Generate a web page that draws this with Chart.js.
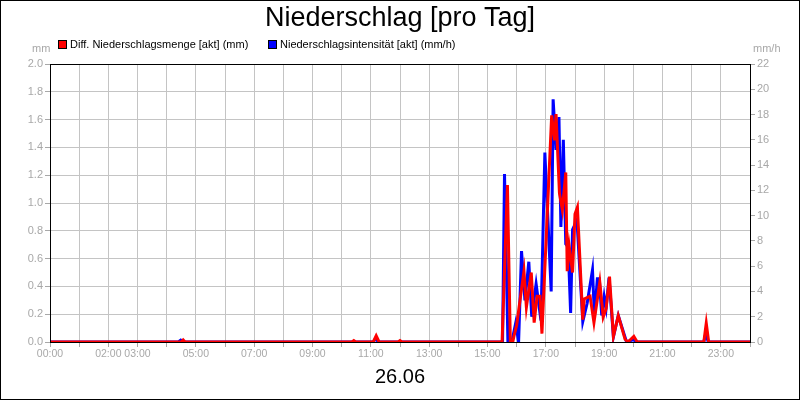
<!DOCTYPE html>
<html>
<head>
<meta charset="utf-8">
<script src="https://cdn.jsdelivr.net/npm/chart.js@4"></script>
<style>
  html, body { margin: 0; padding: 0; background: #fff; }
</style>
</head>
<body>
<canvas id="myChart" width="800" height="400"></canvas>
<script>
// Diff. Niederschlagsmenge (mm), linke Achse
const redTimes = ["00:00", "04:30", "04:34", "04:38", "10:21", "10:25", "10:29", "11:05", "11:11", "11:17",
  "11:56", "12:00", "12:04", "15:30", "15:41", "15:47", "15:52", "15:55", "16:00", "16:15", "16:20", "16:30",
  "16:36", "16:42", "16:48", "16:52", "17:12", "17:18", "17:21", "17:28", "17:34", "17:41", "17:44", "17:48",
  "17:55", "18:00", "18:05", "18:16", "18:19", "18:31", "18:39", "18:51", "18:58", "19:04", "19:11", "19:19",
  "19:29", "19:43", "19:49", "20:01", "20:08", "22:25", "22:30", "22:35", "24:00"];
const redValues = [0, 0, 0.015, 0, 0, 0.01, 0, 0, 0.045, 0,
  0, 0.01, 0, 0, 1.13, 0, 0, 0.05, 0.12, 0.51, 0.25, 0.5,
  0.14, 0.33, 0.33, 0.06, 1.63, 1.45, 1.64, 1.07, 0.95, 1.22, 0.51, 0.69,
  0.5, 0.92, 0.97, 0.16, 0.31, 0.33, 0.14, 0.43, 0.18, 0.24, 0.47, 0.04,
  0.19, 0.02, 0, 0.04, 0, 0, 0.135, 0, 0];

// Niederschlagsintensität (mm/h), rechte Achse
const blueTimes = ["00:00", "04:24", "04:29", "04:34", "11:05", "11:10", "11:15", "15:31", "15:35", "15:42",
  "15:50", "15:58", "16:04", "16:10", "16:17", "16:25", "16:31", "16:40", "16:50", "16:58", "17:11", "17:15",
  "17:21", "17:27", "17:31", "17:36", "17:41", "17:46", "17:51", "17:55", "18:04", "18:16", "18:25", "18:36",
  "18:40", "18:46", "18:50", "18:55", "19:00", "19:04", "19:10", "19:19", "19:29", "19:46", "20:01", "20:06",
  "22:25", "22:29", "22:34", "24:00"];
const blueValues = [0, 0, 0.15, 0, 0, 0.3, 0, 0, 13.3, 0,
  0, 1.5, 0, 7.2, 3.3, 6.35, 2.0, 4.6, 1.7, 15.0, 4.0, 19.2,
  15.2, 17.8, 9.1, 16.0, 7.76, 7.5, 2.3, 8.9, 9.65, 1.6, 3.06, 5.7,
  2.0, 5.0, 5.0, 2.1, 3.6, 2.7, 5.1, 0.4, 2.1, 0, 0.2, 0,
  0, 0.7, 0, 0];

const hourLabels = [0, 2, 3, 5, 7, 9, 11, 13, 15, 17, 19, 21, 23];

const FONT = "'Liberation Sans', Arial, sans-serif";
const GREY = "#a8a8a8";

function toHours(t) {
  const [h, m] = t.split(":").map(Number);
  return h + m / 60;
}

function toPoints(times, values) {
  return times.map((t, i) => ({ x: toHours(t), y: values[i] }));
}

const extras = {
  id: "extras",
  afterDraw(chart) {
    const ctx = chart.ctx;
    const a = chart.chartArea;
    ctx.save();
    // Rahmen um Plotfläche und Bild
    ctx.strokeStyle = "#000";
    ctx.lineWidth = 1;
    ctx.strokeRect(Math.round(a.left) + 0.5, Math.round(a.top) + 0.5, a.right - a.left, a.bottom - a.top);
    ctx.strokeRect(0.5, 0.5, 799, 399);

    // Einheiten
    ctx.font = "11px " + FONT;
    ctx.fillStyle = GREY;
    ctx.textBaseline = "middle";
    ctx.textAlign = "left";
    ctx.fillText("mm", 32, 49);
    ctx.fillText("mm/h", 753, 49);

    // Legende
    const boxes = [58, 268];
    chart.data.datasets.forEach((ds, i) => {
      ctx.fillStyle = ds.borderColor;
      ctx.fillRect(boxes[i], 40, 9, 9);
      ctx.strokeStyle = "#000";
      ctx.strokeRect(boxes[i] + 0.5, 40.5, 8, 8);
      ctx.fillStyle = "#000";
      ctx.fillText(ds.label, boxes[i] + 12, 45);
    });
    ctx.restore();
  }
};

new Chart("myChart", {
  type: "line",
  data: {
    datasets: [
      {
        label: "Diff. Niederschlagsmenge [akt] (mm)",
        data: toPoints(redTimes, redValues),
        borderColor: "#ff0000",
        yAxisID: "y"
      },
      {
        label: "Niederschlagsintensität [akt] (mm/h)",
        data: toPoints(blueTimes, blueValues),
        borderColor: "#0000ff",
        yAxisID: "y1"
      }
    ]
  },
  options: {
    responsive: false,
    animation: false,
    layout: { padding: 0 },
    elements: {
      point: { radius: 0 },
      line: { borderWidth: 3, tension: 0 }
    },
    plugins: {
      legend: { display: false },
      tooltip: { enabled: false },
      title: {
        display: true,
        text: "Niederschlag [pro Tag]",
        color: "#000",
        font: { family: FONT, size: 27, weight: "normal" },
        padding: { top: 2.5, bottom: 29.1 }
      }
    },
    scales: {
      x: {
        type: "linear",
        min: 0,
        max: 24,
        afterFit: s => { s.height = 58; },
        ticks: {
          stepSize: 1,
          autoSkip: false,
          maxRotation: 0,
          padding: 1,
          color: GREY,
          font: { family: FONT, size: 10.5 },
          callback: v => hourLabels.includes(v) ? String(v).padStart(2, "0") + ":00" : ""
        },
        grid: { color: "#c4c4c4", tickColor: GREY, tickLength: 5 },
        border: { color: "#000" },
        title: {
          display: true,
          text: "26.06",
          color: "#000",
          font: { family: FONT, size: 20 },
          padding: { top: 0, bottom: 11 }
        }
      },
      y: {
        position: "left",
        min: 0,
        max: 2,
        afterFit: s => { s.width = 50; },
        ticks: {
          stepSize: 0.2,
          padding: 2,
          color: GREY,
          font: { family: FONT, size: 11 },
          callback: v => v.toFixed(1)
        },
        grid: { color: "#c4c4c4", tickColor: GREY, tickLength: 5 },
        border: { color: "#000" }
      },
      y1: {
        position: "right",
        min: 0,
        max: 22,
        afterFit: s => { s.width = 50; },
        ticks: {
          stepSize: 2,
          padding: 2,
          color: GREY,
          font: { family: FONT, size: 11 }
        },
        grid: { drawOnChartArea: false, tickColor: GREY, tickLength: 5 },
        border: { color: "#000" }
      }
    }
  },
  plugins: [extras]
});
</script>
</body>
</html>
